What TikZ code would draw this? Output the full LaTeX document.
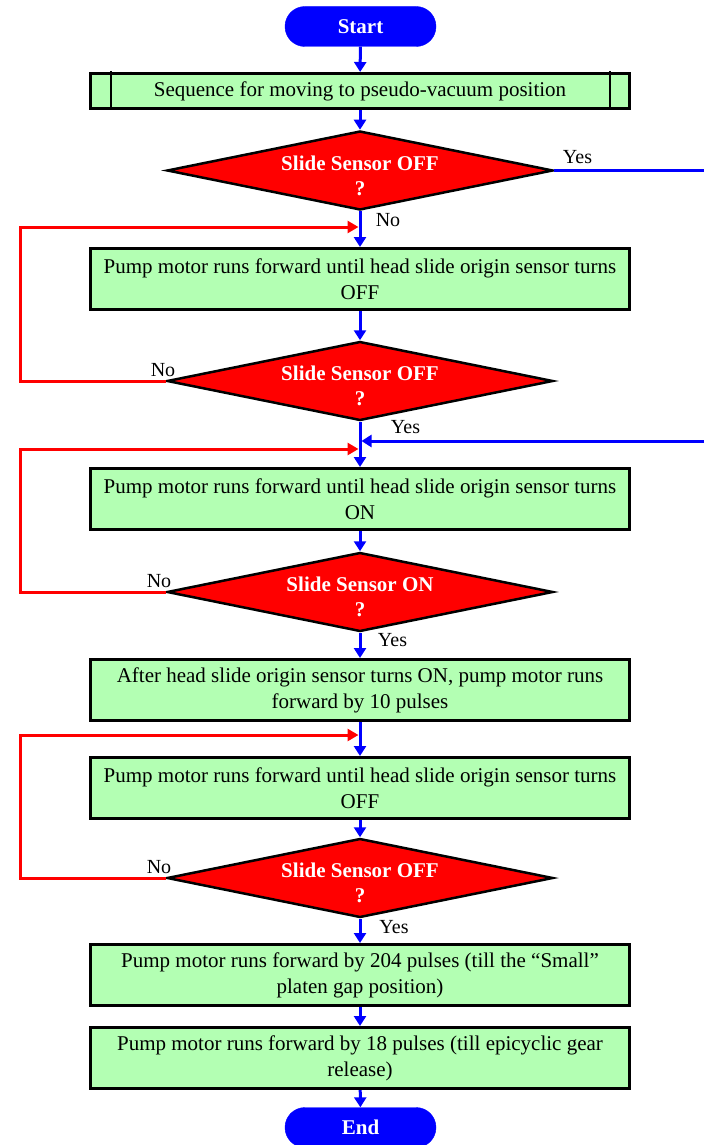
\documentclass[tikz,border=0pt]{standalone}
\usepackage{fontspec}
\setmainfont{Liberation Serif}
\usetikzlibrary{arrows.meta,shapes.geometric}
\definecolor{boxgreen}{RGB}{179,255,179}
\definecolor{pureblue}{RGB}{0,0,255}
\definecolor{purered}{RGB}{255,0,0}
\begin{document}
\begin{tikzpicture}[x=1pt,y=-1pt,
  proc/.style={draw=black, line width=3pt, fill=boxgreen, minimum width=539pt,
    minimum height=61pt, inner sep=0pt, align=center,
    font=\fontsize{21}{26}\selectfont},
  term/.style={rectangle, rounded corners=19.9pt, fill=pureblue, draw=pureblue,
    minimum width=151pt, minimum height=40pt, inner sep=0pt, text=white,
    font=\bfseries\fontsize{21}{25}\selectfont},
  decision/.style={diamond, draw=black, fill=purered, line width=2.5pt,
    minimum width=386pt, minimum height=79pt, inner sep=0pt},
  dtext/.style={text=white, align=center, inner sep=0pt,
    font=\bfseries\fontsize{21}{25}\selectfont},
  lab/.style={inner sep=0pt, font=\fontsize{20}{24}\selectfont},
  flow/.style={draw=pureblue, line width=3pt, -{Triangle[length=10pt,width=12pt]}},
  bline/.style={draw=pureblue, line width=3pt},
  back/.style={draw=purered, line width=3pt, -{Triangle[length=11pt,width=12pt]}, shorten >=1.5pt}
]
\useasboundingbox (0,0) rectangle (704,1145);

% terminals
\node[term] (start) at (360.5,26.5) {Start};
\node[term] (end) at (360.5,1127.5) {End};

% process boxes
\node[proc, minimum height=35pt] (b0) at (360,91) {Sequence for moving to pseudo-vacuum position};
\draw[line width=2.5pt] (111,71) -- (111,109.5);
\draw[line width=2.5pt] (610,71) -- (610,109.5);
\node[proc] (b1) at (360,279) {Pump motor runs forward until head slide origin sensor turns\\OFF};
\node[proc] (b2) at (360,499) {Pump motor runs forward until head slide origin sensor turns\\ON};
\node[proc] (b3) at (360,690) {After head slide origin sensor turns ON, pump motor runs\\forward by 10 pulses};
\node[proc] (b4) at (360,788) {Pump motor runs forward until head slide origin sensor turns\\OFF};
\node[proc] (b5) at (360,975) {Pump motor runs forward by 204 pulses (till the “Small”\\platen gap position)};
\node[proc] (b6) at (360,1058) {Pump motor runs forward by 18 pulses (till epicyclic gear\\release)};

% decisions
\node[decision] (d1) at (360,170.5) {};
\node[decision] (d2) at (360,381) {};
\node[decision] (d3) at (360,592) {};
\node[decision] (d4) at (360,878) {};
\node[dtext] (d1t) at (360,175.5) {Slide Sensor OFF\\?};
\node[dtext] (d2t) at (360,386) {Slide Sensor OFF\\?};
\node[dtext] (d3t) at (360,597) {Slide Sensor ON\\?};
\node[dtext] (d4t) at (360,883) {Slide Sensor OFF\\?};

% main flow
\draw[flow] (start) -- (b0);
\draw[flow] (b0) -- (d1);
\draw[flow] (d1) -- (b1);
\draw[flow] (b1) -- (d2);
\draw[flow] (d2) -- (b2);
\draw[flow] (b2) -- (d3);
\draw[flow] (d3) -- (b3);
\draw[flow] (b3) -- (b4);
\draw[flow] (b4) -- (d4);
\draw[flow] (d4) -- (b5);
\draw[flow] (b5) -- (b6);
\draw[flow] (b6) -- (end);

% yes branch of d1 (leaves and re-enters at the right edge)
\coordinate (r1) at (704,170.5);
\coordinate (r2) at (704,441);
\coordinate (j2) at (360,441);
\draw[bline] (d1.east) -- (r1);
\draw[flow, shorten >=1.5pt] (r2) -- (j2);

% loop-back connectors
\coordinate (j1) at (360,227);
\coordinate (L1) at (20,227);
\coordinate (j3) at (360,449);
\coordinate (L3) at (20,449);
\coordinate (j5) at (360,735);
\coordinate (L5) at (20,735);
\draw[back] (d2.west) -| (L1) -- (j1);
\draw[back] (d3.west) -| (L3) -- (j3);
\draw[back] (d4.west) -| (L5) -- (j5);

% labels
\node[lab] (y1) at (577.5,157.5) {Yes};
\node[lab] (n1) at (388,220) {No};
\node[lab] (n2) at (163,370.5) {No};
\node[lab] (y2) at (405.5,427) {Yes};
\node[lab] (n3) at (159,581.5) {No};
\node[lab] (y3) at (392.5,640.5) {Yes};
\node[lab] (n4) at (159,867) {No};
\node[lab] (y4) at (394,927) {Yes};
\end{tikzpicture}
\end{document}
